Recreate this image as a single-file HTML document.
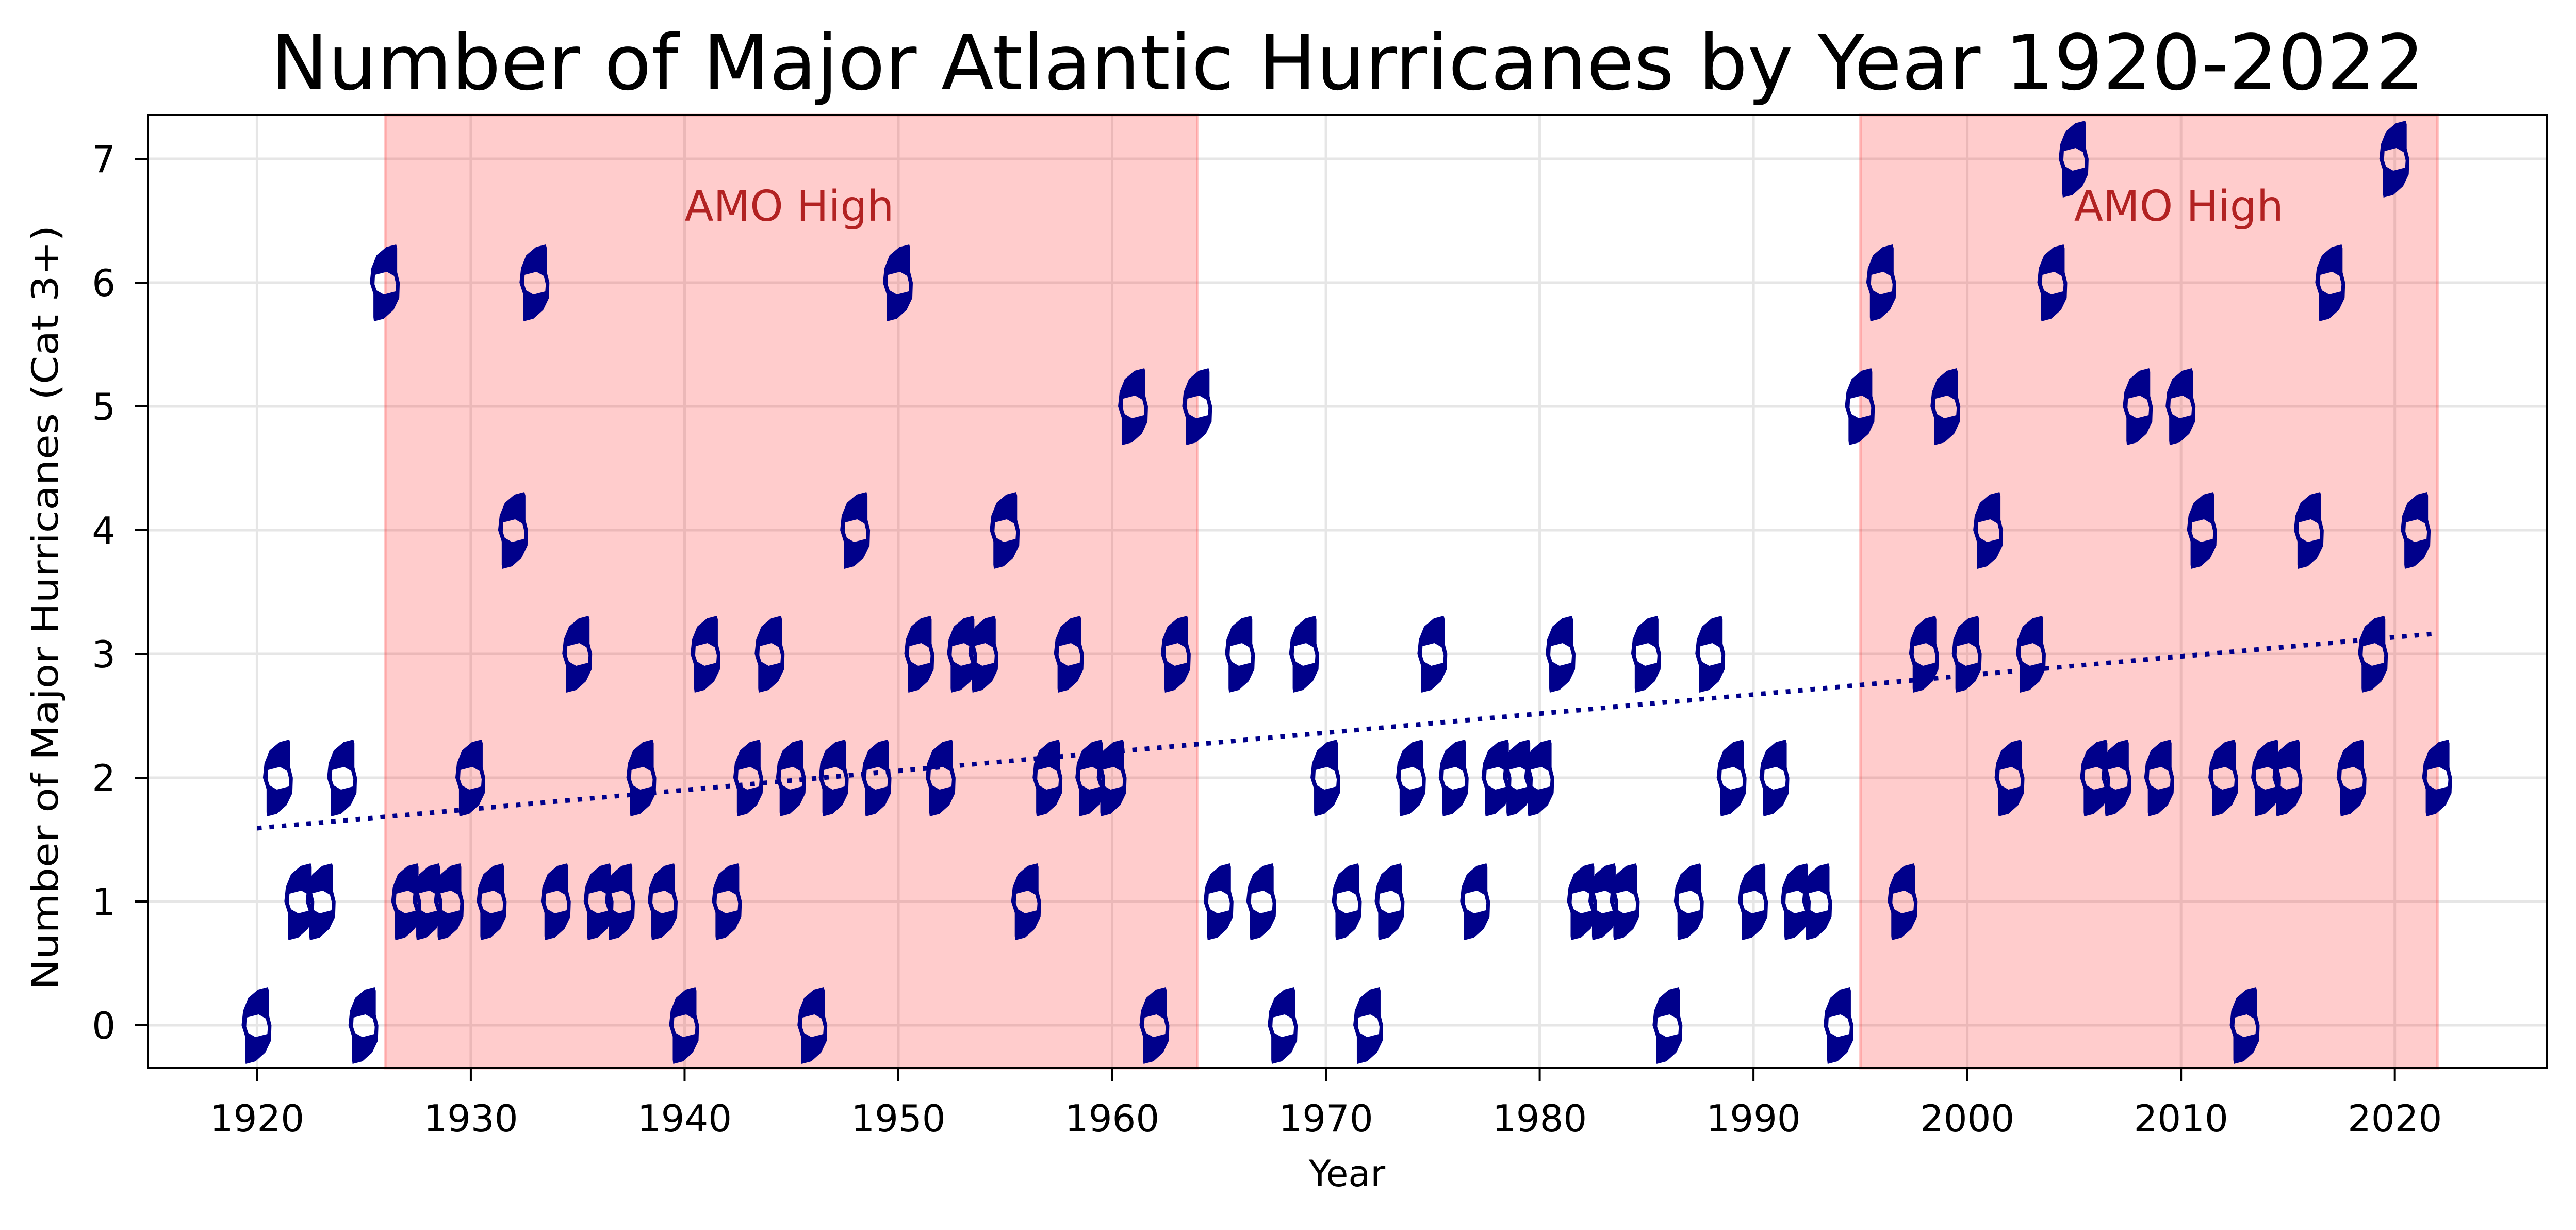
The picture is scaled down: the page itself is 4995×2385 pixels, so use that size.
<!DOCTYPE html>
<html><head><meta charset="utf-8"><style>
html,body{margin:0;padding:0;background:#fff}
svg{display:block;font-family:"DejaVu Sans","Liberation Sans",sans-serif}
</style></head><body>
<svg id="chart" width="4995" height="2385" viewBox="0 0 4995 2385" xmlns="http://www.w3.org/2000/svg">
<rect x="0" y="0" width="4995" height="2385" fill="#fff"/>
<text x="2613" y="173" font-size="148" text-anchor="middle" textLength="4177" lengthAdjust="spacingAndGlyphs">Number of Major Atlantic Hurricanes by Year 1920-2022</text>
<g id="grid"></g>
<g id="shade"></g>
<g id="marks"></g>
<g id="trend"></g>
<g id="axes"></g>
<text x="2612" y="2300" font-size="70" text-anchor="middle">Year</text>
<text transform="translate(112,1178) rotate(-90)" font-size="70" text-anchor="middle" textLength="1482" lengthAdjust="spacingAndGlyphs">Number of Major Hurricanes (Cat 3+)</text>
</svg>
<script>
const years = [];
for (let y = 1920; y <= 2022; y++) years.push(y);
const counts = [0,2,1,1,2,0,6,1,1,1, 2,1,4,6,1,3,1,1,2,1, 0,3,1,2,3,2,0,2,4,2, 6,3,2,3,3,4,1,2,3,2, 2,5,0,3,5,1,3,1,0,3, 2,1,0,1,2,3,2,1,2,2, 2,3,1,1,1,3,0,1,3,2, 1,2,1,1,0,5,6,1,3,5, 3,4,2,3,6,7,2,2,5,2, 5,4,2,0,2,2,4,6,2,3, 7,4,2];
const xTicks = [1920,1930,1940,1950,1960,1970,1980,1990,2000,2010,2020];
const yTicks = [0,1,2,3,4,5,6,7];
const amoStarts = [1926,1995];
const amoEnds = [1964,2022];
const amoLabelYears = [1940,2005];
const amoLabelValues = [6.5,6.5];

const L=287,R=4938,T=223,B=2071;
const xMin=1914.9,xMax=2027.1,yMin=-0.346,yMax=7.354;
const sx=v=>L+(v-xMin)/(xMax-xMin)*(R-L);
const sy=v=>B-(v-yMin)/(yMax-yMin)*(B-T);
const NS="http://www.w3.org/2000/svg";
function mk(tag,attrs,parent){const e=document.createElementNS(NS,tag);for(const k in attrs)e.setAttribute(k,attrs[k]);parent.appendChild(e);return e;}

const grid=document.getElementById('grid');
xTicks.forEach(t=>{const l=mk('line',{x1:sx(t),x2:sx(t),y1:T,y2:B,stroke:'#e6e6e6','stroke-width':5},grid);

});
yTicks.forEach(t=>{const l=mk('line',{x1:L,x2:R,y1:sy(t),y2:sy(t),stroke:'#e6e6e6','stroke-width':5},grid);

});

const shade=document.getElementById('shade');
amoStarts.forEach((s,i)=>{
 const r=mk('rect',{x:sx(s),y:T,width:sx(amoEnds[i])-sx(s),height:B-T,fill:'rgba(255,0,0,0.2)',stroke:'rgba(255,0,0,0.2)','stroke-width':5},shade);
 
 
 const t=mk('text',{x:sx(amoLabelYears[i]),y:sy(amoLabelValues[i]),'font-size':82,fill:'#b22222'},shade);
 t.textContent='AMO High';
 
 
});

const marker="M-30,0 L-27,-28 L-17,-53 L2,-69 L21,-74 L23,-67 L23,-20 L28,0 L27,30 L16,53 L-3,70 L-22,75 L-23,67 L-23,22 Z M-20,-15 L3,-21 L17,-13 L21,3 L20,17 L-3,23 L-17,15 L-21,3 Z";
const marks=document.getElementById('marks');
years.forEach((y,i)=>{
 const p=mk('path',{d:marker,transform:`translate(${sx(y)},${sy(counts[i])})`,fill:'#00008b','fill-rule':'evenodd'},marks);
 
 
});

const n=years.length;let mx=0,my=0;years.forEach((y,i)=>{mx+=y;my+=counts[i];});mx/=n;my/=n;
let num=0,den=0;years.forEach((y,i)=>{num+=(y-mx)*(counts[i]-my);den+=(y-mx)*(y-mx);});
const slope=num/den,icpt=my-slope*mx;
const x0=years[0],x1=years[n-1];
const tl=mk('line',{x1:sx(x0),y1:sy(icpt+slope*x0),x2:sx(x1),y2:sy(icpt+slope*x1),stroke:'#00008b','stroke-width':9,'stroke-dasharray':'9,15'},document.getElementById('trend'));



const axes=document.getElementById('axes');
const frame=mk('rect',{x:L,y:T,width:R-L,height:B-T,fill:'none',stroke:'#000','stroke-width':4},axes);


xTicks.forEach(t=>{
 const l=mk('line',{x1:sx(t),x2:sx(t),y1:B,y2:B+26,stroke:'#000','stroke-width':4},axes);
 
 
 const tx=mk('text',{x:sx(t),y:2194,'font-size':72,'text-anchor':'middle'},axes);
 tx.textContent=t;
 
 
});
yTicks.forEach(t=>{
 const l=mk('line',{x1:L-26,x2:L,y1:sy(t),y2:sy(t),stroke:'#000','stroke-width':4},axes);
 
 
 const tx=mk('text',{x:224,y:sy(t)+26,'font-size':72,'text-anchor':'end'},axes);
 tx.textContent=t;
 
 
});
</script>
</body></html>
